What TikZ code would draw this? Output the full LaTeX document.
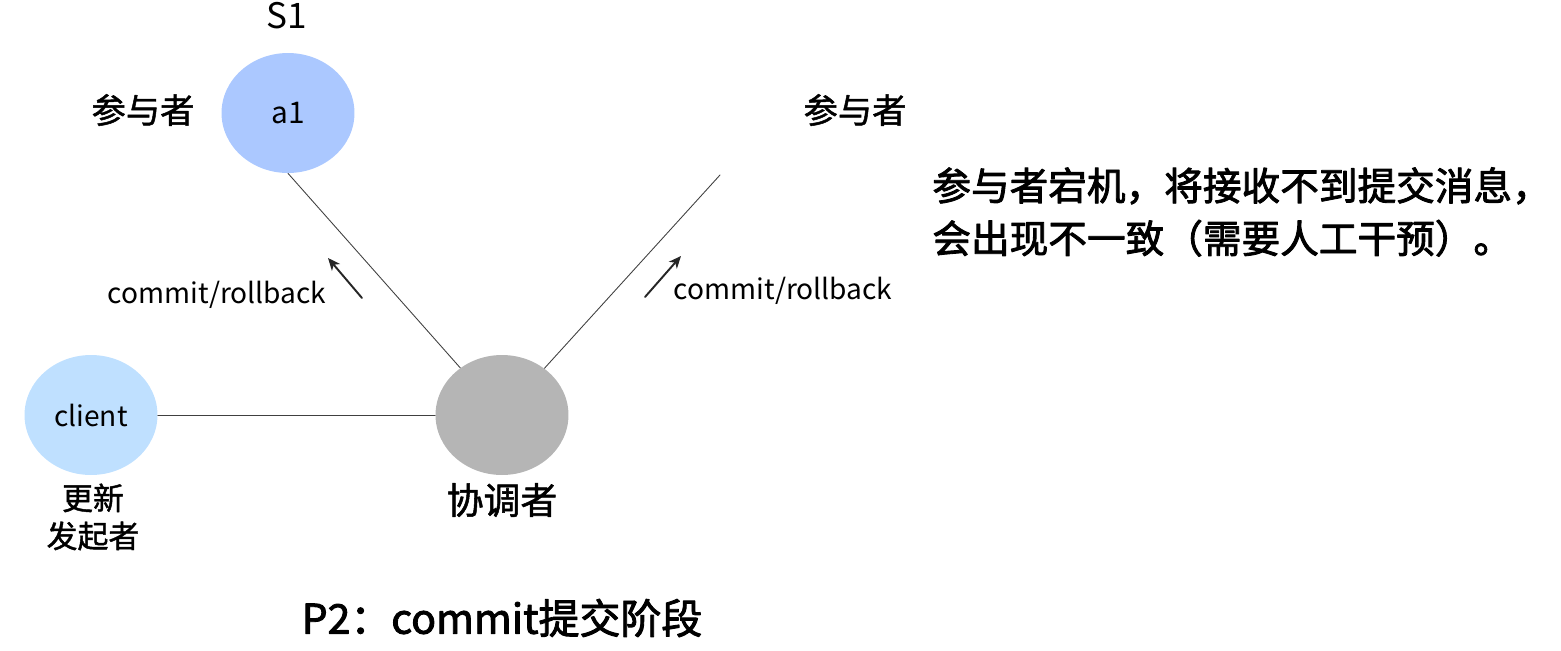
\documentclass[tikz,border=0pt]{standalone}
\usepackage{fontspec}
\setmainfont{Noto Sans CJK SC}
\newfontfamily\medfont{Noto Sans CJK SC}[FakeBold=1.4]
\newfontfamily\semifont{Noto Sans CJK SC}[FakeBold=2.2]
\usetikzlibrary{shapes.geometric,arrows.meta}
\definecolor{partblue}{RGB}{171,200,255}
\definecolor{cliblue}{RGB}{191,224,255}
\definecolor{coordgray}{RGB}{181,181,181}
\begin{document}
\begin{tikzpicture}[x=0.02cm,y=-0.02cm,>={Stealth[length=7pt,width=6pt,inset=2pt]},line join=round,line cap=round]
	\tikzset{peer/.style={ellipse,minimum width=2.66cm,minimum height=2.4cm,inner sep=0pt},
		link/.style={draw=black!75,line width=0.5pt},
		msg/.style={->,line width=1.1pt,black!85},
		txt/.style={inner sep=0pt,font=\fontsize{16}{19}\selectfont},
		role/.style={inner sep=0pt,font=\medfont\fontsize{19.5}{23}\selectfont}}
	\useasboundingbox (0,0) rectangle (1561,650);
	% nodes
	\node[peer,fill=partblue] (a1) at (288,113) {\fontsize{17}{20}\selectfont a1};
	\node[peer,fill=coordgray] (coord) at (502,415) {};
	\node[peer,fill=cliblue] (client) at (91,415) {\fontsize{16}{19}\selectfont client};
	\coordinate (a2) at (720,175);
	% links
	\draw[link] (a1.south) -- (coord);
	\draw[link] (a2) -- (coord);
	\draw[link] (client) -- (coord);
	% messages
	\coordinate (m1s) at (362,298); \coordinate (m1e) at (328,258);
	\coordinate (m2s) at (645,297); \coordinate (m2e) at (681,256);
	\draw[msg] (m1s) -- (m1e);
	\draw[msg] (m2s) -- (m2e);
	% labels
	\node[inner sep=0pt,font=\fontsize{20}{24}\selectfont] (s1) at (287,16) {S1};
	\node[role] (r1) at (143,110) {参与者};
	\node[role] (r2) at (855,110) {参与者};
	\node[role,font=\medfont\fontsize{21}{25}\selectfont] (rc) at (502,500) {协调者};
	\node[role,font=\medfont\fontsize{17.6}{21.6}\selectfont,align=center] (rcl) at (93,517) {更新\\发起者};
	\node[txt] (l1) at (217,295) {commit/rollback};
	\node[txt] (l2) at (783,291) {commit/rollback};
	\node[inner sep=0pt,anchor=west,align=left,font=\semifont\fontsize{22}{30}\selectfont] (note) at (932,212)
		{参与者宕机，将接收不到提交消息，\\会出现不一致（需要人工干预）。};
	\node[inner sep=0pt,font=\semifont\fontsize{23.3}{27}\selectfont] (title) at (502,618) {P2：commit提交阶段};
\end{tikzpicture}
\end{document}
